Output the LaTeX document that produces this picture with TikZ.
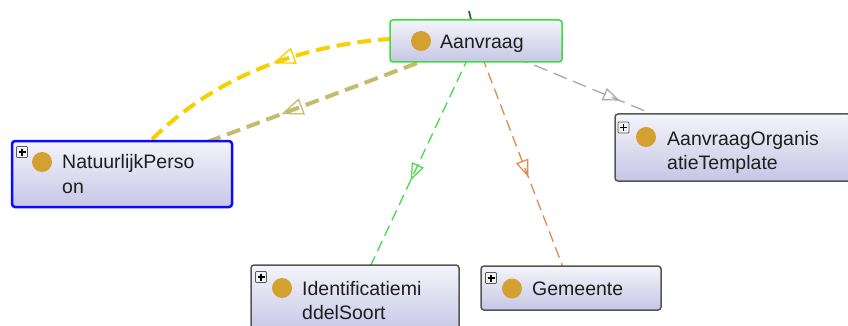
\documentclass[tikz,border=0pt]{standalone}
\usepackage{fontspec}
\setmainfont{Liberation Sans}
\usetikzlibrary{arrows.meta,decorations.markings,backgrounds}
\definecolor{boxtop}{HTML}{F4F4FA}
\definecolor{boxbot}{HTML}{C6C6E6}
\definecolor{dotcol}{HTML}{D4A030}
\definecolor{txtcol}{HTML}{1E1E1E}
\definecolor{aangreen}{HTML}{3DDC3D}
\definecolor{natblue}{HTML}{0A0AFF}
\definecolor{greyborder}{HTML}{555555}
\definecolor{yelline}{HTML}{F7D000}
\definecolor{oliveline}{HTML}{C4BC6C}
\definecolor{greenline}{HTML}{48D848}
\definecolor{orangeline}{HTML}{E08A52}
\definecolor{greyline}{HTML}{A8A8A8}
\definecolor{topline}{HTML}{2A6E2A}
\tikzset{
  clsbox/.style={draw=#1, rounded corners=3pt, top color=boxtop, bottom color=boxbot,
    inner sep=0pt, outer sep=0pt, anchor=north west, line width=1.5pt},
  dotnode/.style={circle, fill=dotcol, minimum size=20pt, inner sep=0pt},
  lbl/.style={anchor=base west, inner sep=0pt, text=txtcol, font=\fontsize{19.5}{24}\selectfont},
  bigarrow/.style={postaction={decorate}, decoration={markings,
    mark=at position #1 with {\arrow{Triangle[open, length=22pt, width=17pt, line width=1.3pt]}}}},
  smallarrow/.style={postaction={decorate}, decoration={markings,
    mark=at position #1 with {\arrow{Triangle[open, length=17pt, width=13pt, line width=1.2pt]}}}},
  thickedge/.style={line width=4pt, dash pattern=on 14pt off 7pt},
  thinedge/.style={line width=1.3pt, dash pattern=on 11pt off 6pt},
  pics/plusicon/.style={code={
    \draw[draw=gray!70!black, fill=gray!12, line width=0.7pt, rounded corners=0.8pt] (-5.5,-5.5) rectangle (5.5,5.5);
    \draw[line width=1.3pt, black] (-3.5,0) -- (3.5,0) (0,-3.5) -- (0,3.5);}}
}
\begin{document}
\begin{tikzpicture}[x=1pt,y=-1pt]
\clip (0,0) rectangle (848,326);
% boxes
\node[clsbox=aangreen, minimum width=172pt, minimum height=42pt] (aan) at (390,20) {};
\node[clsbox=natblue, line width=2.5pt, minimum width=220pt, minimum height=66pt] (nat) at (12,141) {};
\node[clsbox=greyborder, minimum width=236pt, minimum height=67pt] (aot) at (615,114) {};
\node[clsbox=greyborder, minimum width=208pt, minimum height=68pt] (ident) at (251,265) {};
\node[clsbox=greyborder, minimum width=180pt, minimum height=44pt] (gem) at (481,266) {};
\coordinate (topend) at (469,11);
% edges behind the boxes
\begin{scope}[on background layer]
\fill[white] (0,0) rectangle (848,326);
\draw[topline, line width=1.8pt] (topend) -- (aan.center);
\draw[yelline, thickedge, bigarrow=0.52] (aan.center) .. controls (330,25) and (197,73) .. (nat.center);
\draw[oliveline, thickedge, bigarrow=0.55] (aan.center) -- (nat.center);
\draw[greenline, thinedge, smallarrow=0.54] (aan.center) -- (ident.center);
\draw[orangeline, thinedge, smallarrow=0.55] (aan.center) -- (gem.center);
\draw[greyline, thinedge, dash pattern=on 14pt off 7pt, smallarrow=0.56] (aan.center) -- (aot.center);
\end{scope}
% icons, dots and labels
\node[dotnode] (aanDot) at (421,41) {};
\node[lbl] (aanT) at (440,49) {Aanvraag};

\pic at (22,152) {plusicon};
\node[dotnode] (natDot) at (42,162) {};
\node[lbl] (natT1) at (62,168) {NatuurlijkPerso};
\node[lbl] (natT2) at (62,193) {on};

\pic at (623.5,127.5) {plusicon};
\node[dotnode] (aotDot) at (646,137) {};
\node[lbl] (aotT1) at (667,145) {AanvraagOrganis};
\node[lbl] (aotT2) at (667,169) {atieTemplate};

\pic at (261,277) {plusicon};
\node[dotnode] (identDot) at (282,288) {};
\node[lbl] (identT1) at (302,295) {Identificatiemi};
\node[lbl] (identT2) at (302,319) {ddelSoort};

\pic at (491,278) {plusicon};
\node[dotnode] (gemDot) at (512,288.5) {};
\node[lbl] (gemT) at (532,295) {Gemeente};
\end{tikzpicture}
\end{document}
